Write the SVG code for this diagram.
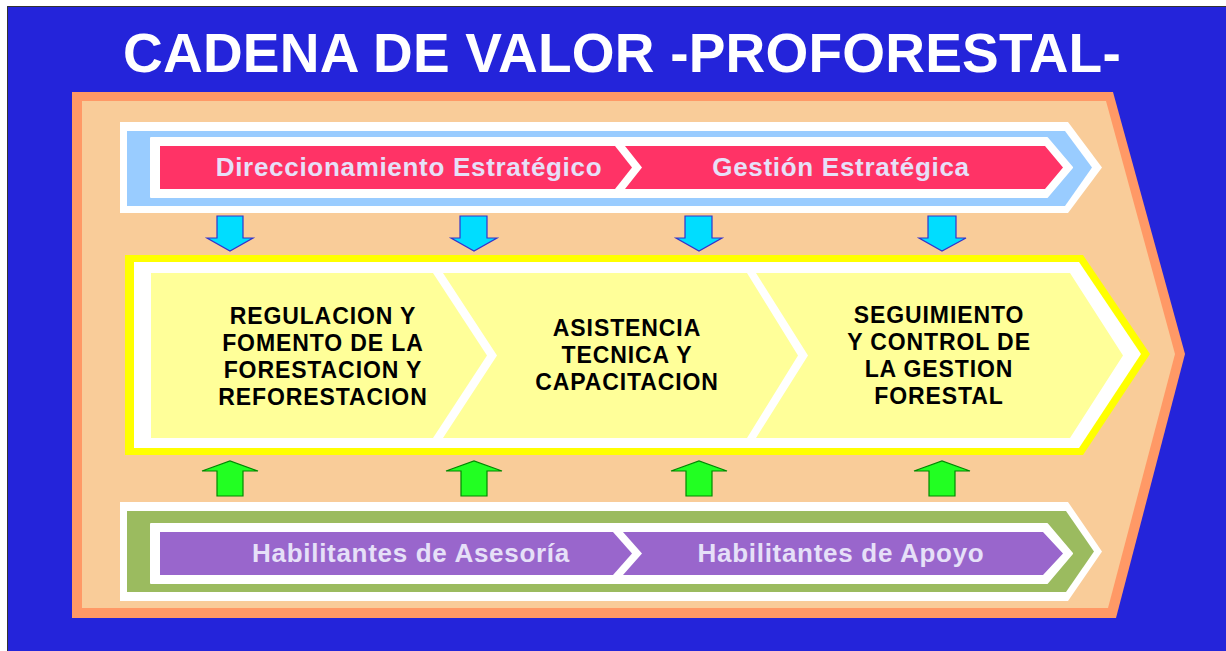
<svg xmlns="http://www.w3.org/2000/svg" width="1226" height="651" viewBox="0 0 1226 651">
<style>
.lbl{font-family:"Liberation Sans",Arial,sans-serif;font-weight:bold;font-size:26px;fill:#E6E0F8;letter-spacing:0.7px;text-anchor:middle}
.blk{font-family:"Liberation Sans",Arial,sans-serif;font-weight:bold;font-size:23px;fill:#000;letter-spacing:0.9px;text-anchor:middle}
.ttl{font-family:"Liberation Sans",Arial,sans-serif;font-weight:bold;font-size:55px;fill:#FFFFFF;text-anchor:middle;letter-spacing:0.2px}
.red{fill:#FF3366}
.pur{fill:#9966CC}
.lyel{fill:#FFFF99}
.dn{fill:#00DDFF;stroke:#3333CC;stroke-width:1.2}
.up{fill:#22FF22;stroke:#008800;stroke-width:1.2}
</style>
<rect x="0" y="0" width="1226" height="651" fill="#FFFFFF"/>
<rect x="7" y="6" width="1219" height="645" fill="#2424DA"/>
<path d="M7.5 651 V6.5 H1226" fill="none" stroke="#333333" stroke-width="1"/>
<text class="ttl" x="622" y="72">CADENA DE VALOR -PROFORESTAL-</text>
<g id="frame">
<polygon points="72,92 1113,92 1185,354 1116,618 72,618" fill="#FF9966"/>
<polygon points="82,101 1106,101 1175,354 1108,608 82,608" fill="#F9CC99"/>
</g>
<g id="top-band">
<polygon points="120,122 1068,122 1102,167.5 1068,213 120,213" fill="#FFFFFF"/>
<polygon points="127,131 1065,131 1092,167.5 1065,206 127,206" fill="#99CCFF"/>
<polygon points="151,138 1047,138 1072,167.5 1047,197 151,197" fill="#FFFFFF" stroke="#FFFFFF" stroke-width="2" stroke-linejoin="round"/>
</g>
<g id="direccionamiento">
<polygon class="red" points="160,146 615,146 632,167.5 615,189 160,189"/>
<text class="lbl" x="409" y="176">Direccionamiento Estratégico</text>
</g>
<g id="gestion">
<polygon class="red" points="625,146 1045,146 1063,167.5 1045,189 625,189 642,167.5"/>
<text class="lbl" x="841" y="176">Gestión Estratégica</text>
</g>
<g id="middle-band">
<polygon points="125,255 1083,255 1150,354 1083,455 125,455" fill="#FFFF00"/>
<polygon points="134,262 1079,262 1141,354 1079,448 134,448" fill="#FFFFFF"/>
</g>
<g id="regulacion">
<polygon class="lyel" points="151,273 433,273 487,355.5 433,438 151,438"/>
<text class="blk" x="323"><tspan x="323" y="324">REGULACION Y</tspan><tspan x="323" y="351">FOMENTO DE LA</tspan><tspan x="323" y="378">FORESTACION Y</tspan><tspan x="323" y="405">REFORESTACION</tspan></text>
</g>
<g id="asistencia">
<polygon class="lyel" points="443,273 747,273 798,355.5 747,438 443,438 497,355.5"/>
<text class="blk" x="627"><tspan x="627" y="336">ASISTENCIA</tspan><tspan x="627" y="363">TECNICA Y</tspan><tspan x="627" y="390">CAPACITACION</tspan></text>
</g>
<g id="seguimiento">
<polygon class="lyel" points="756,273 1070,273 1123,355.5 1070,438 756,438 808,355.5"/>
<text class="blk" x="939"><tspan x="939" y="323">SEGUIMIENTO</tspan><tspan x="939" y="350">Y CONTROL DE</tspan><tspan x="939" y="377">LA GESTION</tspan><tspan x="939" y="404">FORESTAL</tspan></text>
</g>
<g id="bottom-band">
<polygon points="120,502 1068,502 1102,551.5 1068,601 120,601" fill="#FFFFFF"/>
<polygon points="127,511 1066,511 1094,551.5 1066,592 127,592" fill="#9BBB5F"/>
<polygon points="151,524 1047,524 1072,553.5 1047,583 151,583" fill="#FFFFFF" stroke="#FFFFFF" stroke-width="2" stroke-linejoin="round"/>
</g>
<g id="asesoria">
<polygon class="pur" points="160,532 613,532 632,553.5 613,575 160,575"/>
<text class="lbl" x="411" y="562">Habilitantes de Asesoría</text>
</g>
<g id="apoyo">
<polygon class="pur" points="623,532 1043,532 1063,553.5 1043,575 623,575 642,553.5"/>
<text class="lbl" x="841" y="562">Habilitantes de Apoyo</text>
</g>
<g id="connectors">
<polygon class="dn" points="217,216 243,216 243,238 253,238 230,251 207,238 217,238"/>
<polygon class="dn" points="460,216 487,216 487,238 497,238 474,251 451,238 460,238"/>
<polygon class="dn" points="685,216 712,216 712,238 722,238 699,251 676,238 685,238"/>
<polygon class="dn" points="928,216 956,216 956,238 966,238 942,251 919,238 928,238"/>
<polygon class="up" points="217,496 243,496 243,471 258,471 230,461 202,471 217,471"/>
<polygon class="up" points="461,496 487,496 487,471 502,471 474,461 446,471 461,471"/>
<polygon class="up" points="686,496 712,496 712,471 727,471 699,461 671,471 686,471"/>
<polygon class="up" points="929,496 955,496 955,471 970,471 942,461 914,471 929,471"/>
</g>
</svg>
